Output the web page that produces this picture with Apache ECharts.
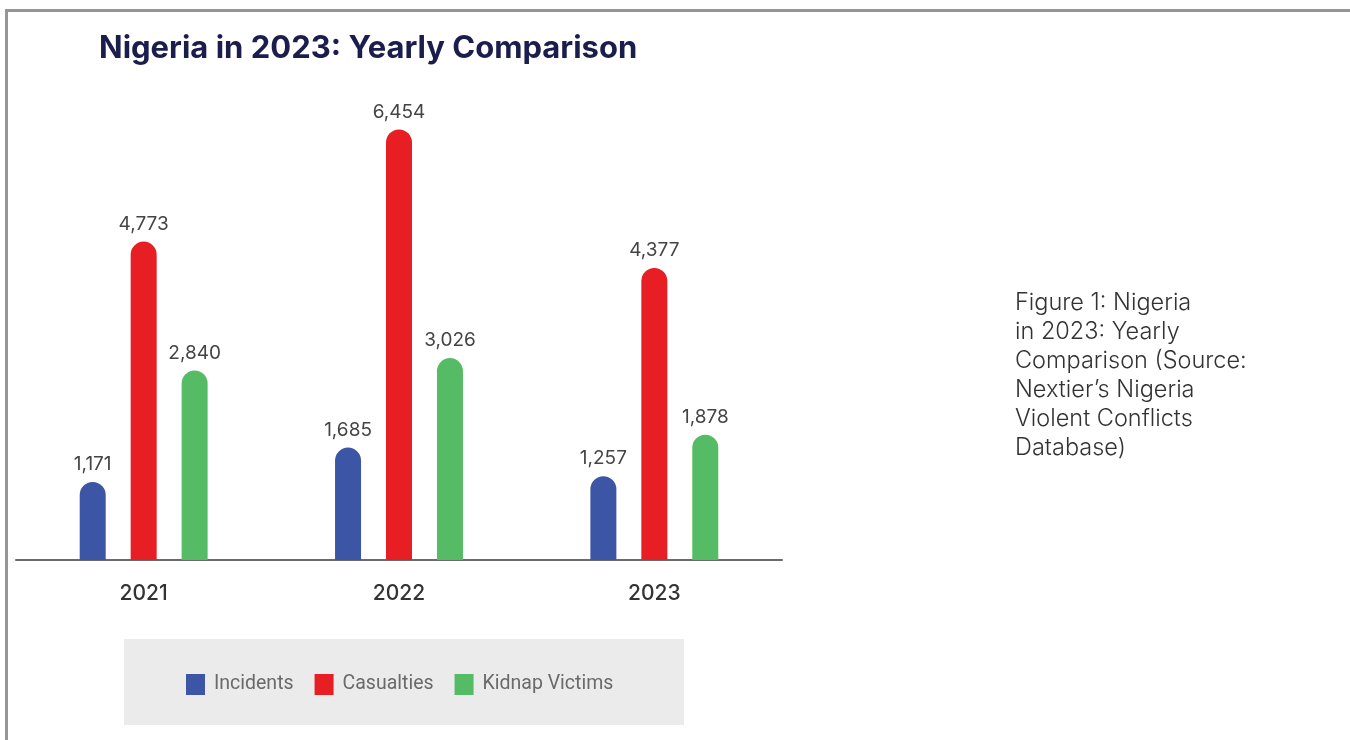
<!DOCTYPE html>
<html>
<head>
<meta charset="utf-8">
<script src="https://cdn.jsdelivr.net/npm/echarts@6/dist/echarts.min.js"></script>
<style>
  html, body { margin: 0; padding: 0; background: #ffffff; }
  #chart { width: 1350px; height: 740px; }
</style>
</head>
<body>
<div id="chart"></div>
<script>
// Yearly figures from the Nigeria Violent Conflicts Database
const years = ['2021', '2022', '2023'];
const incidents = [1171, 1685, 1257];
const casualties = [4773, 6454, 4377];
const kidnapVictims = [2840, 3026, 1878];
const seriesNames = ['Incidents', 'Casualties', 'Kidnap Victims'];
const seriesColors = ['#3c55a5', '#e81e25', '#55bb64'];
const captionLines = [
  'Figure 1: Nigeria',
  'in 2023: Yearly',
  'Comparison (Source:',
  'Nextier\u2019s Nigeria',
  'Violent Conflicts',
  'Database)'
];

const chart = echarts.init(document.getElementById('chart'));
const fmt = v => v.toLocaleString('en-US');

function barSeries(name, data, color) {
  return {
    name: name,
    type: 'bar',
    data: data,
    barWidth: 26,
    barGap: '96%',
    itemStyle: { color: color, borderRadius: [13, 13, 0, 0] },
    label: {
      show: true,
      position: 'top',
      distance: 8,
      formatter: p => fmt(p.value),
      fontFamily: 'Inter',
      fontSize: 19,
      color: '#444444'
    }
  };
}

chart.setOption({
  animation: false,
  backgroundColor: '#ffffff',
  title: {
    text: 'Nigeria in 2023: Yearly Comparison',
    left: 94,
    top: 28,
    textStyle: {
      fontFamily: 'Inter',
      fontWeight: 'bold',
      fontSize: 31,
      color: '#1b1d4d'
    }
  },
  grid: { left: 16, right: 568, top: 93, bottom: 180, containLabel: false },
  xAxis: {
    type: 'category',
    data: years,
    axisLine: { lineStyle: { color: '#6b6b6b', width: 2 } },
    axisTick: { show: false },
    axisLabel: {
      margin: 23,
      fontFamily: 'Inter',
      fontWeight: 500,
      fontSize: 21,
      color: '#333333'
    }
  },
  yAxis: {
    type: 'value',
    min: 0,
    max: 7000,
    show: false,
    splitLine: { show: false }
  },
  legend: {
    data: seriesNames,
    left: 186,
    top: 674,
    padding: 0,
    itemWidth: 19,
    itemHeight: 21,
    itemGap: 21,
    icon: 'rect',
    textStyle: {
      fontFamily: 'Roboto',
      fontSize: 19.5,
      color: '#6a6a6a',
      padding: [0, 0, 0, 4]
    }
  },
  graphic: [
    {
      type: 'polyline',
      shape: { points: [[6.5, 740], [6.5, 10.5], [1350, 10.5]] },
      style: { stroke: '#959595', lineWidth: 3, fill: null },
      silent: true
    },
    {
      type: 'rect',
      shape: { x: 124, y: 639, width: 560, height: 86 },
      style: { fill: '#ebebeb' },
      z: -1,
      silent: true
    },
    {
      type: 'text',
      left: 1015,
      top: 288,
      style: {
        text: captionLines.join('\n'),
        fontFamily: 'Inter',
        fontWeight: 300,
        fontSize: 23.5,
        lineHeight: 29,
        fill: '#333333'
      },
      silent: true
    }
  ],
  series: [
    barSeries(seriesNames[0], incidents, seriesColors[0]),
    barSeries(seriesNames[1], casualties, seriesColors[1]),
    barSeries(seriesNames[2], kidnapVictims, seriesColors[2])
  ]
});
</script>
</body>
</html>
